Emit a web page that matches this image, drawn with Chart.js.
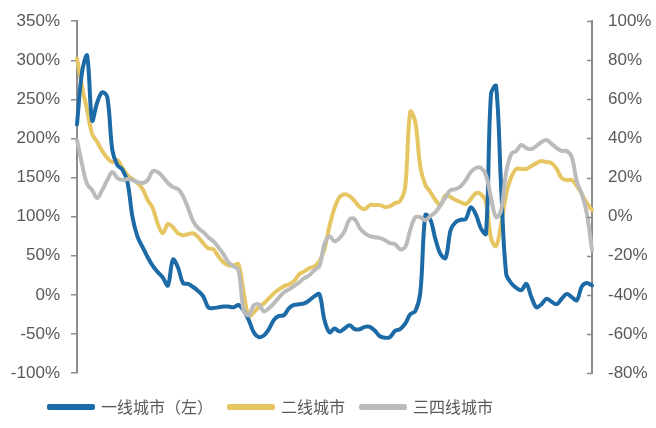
<!DOCTYPE html>
<html>
<head>
<meta charset="utf-8">
<script src="https://cdn.jsdelivr.net/npm/chart.js@4"></script>
<style>
  html, body { margin: 0; padding: 0; background: #fff; }
  #wrap { width: 656px; height: 428px; }
</style>
</head>
<body>
<div id="wrap"><canvas id="cityChart" width="656" height="428"></canvas></div>
<script>
// Tier-1 cities, left axis (%)
const tier1 = [
    218, 285, 306, 223, 246, 259, 253, 185, 166, 160,
    144, 99, 74, 61, 48, 37, 29, 22, 12, 45,
    35, 15, 14, 10, 5, -2, -16, -17, -16, -15,
    -15, -16, -13, -20, -32, -48, -54, -52, -44, -32,
    -27, -26, -17, -13, -12, -11, -7, -2, 1, -32,
    -48, -43, -47, -43, -39, -44, -44, -41, -41, -46,
    -53, -55, -54, -46, -44, -37, -25, -21, 3, 102,
    96, 71, 52, 47, 83, 93, 96, 97, 112, 103,
    85, 78, 257, 267, 138, 27, 15, 9, 6, 14,
    -3, -16, -12, -5, -9, -12, -5, 1, -3, -7,
    11, 15, 12
];

// Tier-2 cities, right axis (%)
const tier2 = [
    80.8, 66.4, 54.6, 42.3, 38.2, 33.6, 30, 27.9, 29, 24.9,
    21.3, 19.2, 17.2, 14.1, 8.5, 4.4, -3.8, -8.5, -3.8, -5.4,
    -8.5, -9.5, -9, -8.5, -10.5, -13.6, -16.2, -16.7, -20.3, -23.3,
    -24.9, -24.9, -24.4, -38.7, -51, -49, -46.4, -44.4, -41.8, -39.2,
    -37.2, -35.6, -34.6, -33, -29.5, -28, -26.4, -25.4, -22.8, -16.7,
    -4.9, 4.4, 10, 11.5, 10.5, 8, 4.9, 3.8, 5.9, 5.9,
    5.9, 4.9, 5.4, 6.9, 8, 15.1, 53.6, 48.5, 25.4, 16.2,
    12.6, 8.5, 5.9, 11, 10, 8.5, 7.4, 6.4, 9, 12,
    11.5, 7.4, -11, -15.1, -3.8, 11.5, 20.3, 24.4, 24.4, 24.4,
    25.9, 27.4, 28.5, 27.9, 27.4, 24.4, 19.7, 18.7, 18.7, 15.6,
    11.5, 6.9, 3.3
];

// Tier-3/4 cities, right axis (%)
const tier34 = [
    39.2, 26.9, 16.7, 13.6, 9.5, 13.6, 18.7, 22.8, 19.7, 18.7,
    19.2, 18.7, 17.7, 17.2, 18.7, 23.3, 22.8, 20.3, 17.2, 15.1,
    14.1, 10.5, 4.4, -2.3, -5.9, -7.9, -10.5, -12.6, -15.6, -19.2,
    -23.3, -25.4, -27.4, -48, -50.5, -45.4, -44.9, -48.5, -46.9, -44.4,
    -41.3, -38.7, -37.2, -35.6, -33.6, -31.5, -30, -27.4, -25.4, -14.1,
    -10, -12.6, -11, -7.4, -1.3, -1.3, -5.9, -8.5, -10, -10.5,
    -11, -12, -13.6, -14.1, -16.7, -15.6, -6.9, -0.3, -0.3, -1.8,
    0.3, 2.3, 5.9, 10, 13.6, 14.1, 15.6, 18.7, 22.8, 24.9,
    24.9, 21.3, 9.5, -0.3, 3.3, 22.8, 32, 33.6, 36.7, 35.1,
    34.6, 36.2, 38.2, 39.2, 37.2, 35.1, 33.6, 33.6, 30.5, 17.9,
    11.5, 1.3, -17.2
];

const periods = tier1.map((_, i) => i + 1);
const seriesNames = ["一线城市（左）", "二线城市", "三四线城市"];

const axisColor = "#8c8c8c";
const textColor = "#595959";

const layoutTweaks = {
    id: "layoutTweaks",
    afterLayout(chart) {
        // legend sits left of centre in the source
        chart.legend.left += 33;
    },
    afterDraw(chart) {
        // right axis ticks point into the plot
        const s = chart.scales.y1;
        const ctx = chart.ctx;
        ctx.save();
        ctx.strokeStyle = axisColor;
        ctx.lineWidth = 1.5;
        s.ticks.forEach(t => {
            const y = Math.round(s.getPixelForValue(t.value)) + 0.5;
            ctx.beginPath();
            ctx.moveTo(s.left - 5, y);
            ctx.lineTo(s.left, y);
            ctx.stroke();
        });
        ctx.restore();
    }
};

const lineStyle = {
    borderWidth: 4,
    pointRadius: 0,
    tension: 0.35,
    borderCapStyle: "round",
    borderJoinStyle: "round",
    fill: false
};

new Chart(document.getElementById("cityChart"), {
    type: "line",
    data: {
        labels: periods,
        datasets: [
            { ...lineStyle, label: seriesNames[0], data: tier1, yAxisID: "y",
              borderColor: "#1c6aa6", backgroundColor: "#1c6aa6", order: 1 },
            { ...lineStyle, label: seriesNames[1], data: tier2, yAxisID: "y1",
              borderColor: "#e5c663", backgroundColor: "#e5c663", order: 2 },
            { ...lineStyle, label: seriesNames[2], data: tier34, yAxisID: "y1",
              borderColor: "#bbbbbb", backgroundColor: "#bbbbbb", order: 0 }
        ]
    },
    options: {
        responsive: false,
        animation: false,
        layout: { padding: { left: 0, right: 0, top: 19, bottom: 3 } },
        plugins: {
            tooltip: { enabled: false },
            legend: {
                position: "bottom",
                align: "start",
                labels: {
                    sort: (a, b) => a.datasetIndex - b.datasetIndex,
                    boxWidth: 44,
                    boxHeight: 2,
                    padding: 16,
                    color: textColor,
                    font: { family: "'Noto Sans CJK SC', sans-serif", size: 16 }
                }
            }
        },
        scales: {
            x: {
                display: true,
                afterFit: scale => { scale.height = 10; },
                grid: { display: false },
                border: { display: false },
                ticks: { display: false }
            },
            y: {
                position: "left",
                min: -100,
                max: 350,
                afterFit: scale => { scale.width = 77; },
                grid: { drawOnChartArea: false, color: axisColor, tickLength: 6, lineWidth: 1.5 },
                border: { display: true, color: axisColor, width: 2 },
                ticks: {
                    stepSize: 50,
                    padding: 11,
                    color: textColor,
                    font: { family: "'Liberation Sans', Arial, sans-serif", size: 17 },
                    callback: v => v + "%"
                }
            },
            y1: {
                position: "right",
                min: -80,
                max: 100,
                afterFit: scale => { scale.width = 64; },
                grid: { drawOnChartArea: false, color: "rgba(0,0,0,0)", tickLength: 12 },
                border: { display: true, color: axisColor, width: 2 },
                ticks: {
                    stepSize: 20,
                    padding: 4,
                    color: textColor,
                    font: { family: "'Liberation Sans', Arial, sans-serif", size: 17 },
                    callback: v => v + "%"
                }
            }
        }
    },
    plugins: [layoutTweaks]
});
</script>
</body>
</html>
